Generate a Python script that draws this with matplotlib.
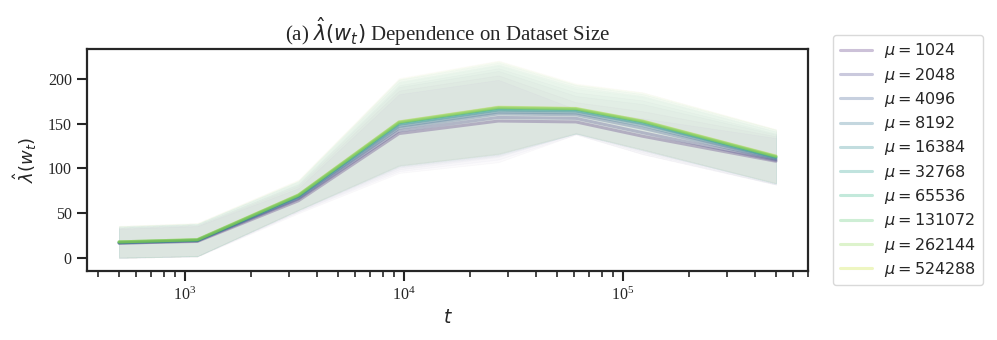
import numpy as np
import matplotlib
matplotlib.use("Agg")
import matplotlib.pyplot as plt
import matplotlib.ticker as mticker
import seaborn as sns

sns.set_theme(style="ticks")
plt.rcParams['font.family'] = ['Liberation Serif', 'DejaVu Sans']
plt.rcParams['mathtext.fontset'] = 'dejavusans'

# ---- data ----
t = [500, 1140, 3300, 9500, 27000, 61000, 123000, 500000]
mus = [1024, 2048, 4096, 8192, 16384, 32768, 65536, 131072, 262144, 524288]

m1024 = [16.5, 18.5, 64, 139, 153, 152, 136, 108]
m2048 = [16.5, 19, 66, 142, 157, 156, 140, 109]
m4096 = [17, 19.5, 67, 145, 161, 160, 145, 110]
m8192 = [17, 19.5, 68, 147, 163, 162, 148, 111]
m16384 = [17.5, 20, 69, 149, 165, 164, 150, 112]
m32768 = [17.5, 20, 69.5, 150, 166, 165, 151, 112.5]
m65536 = [18, 20, 70, 151, 167, 166, 152, 113]
m131072 = [18, 20.5, 70, 151.5, 168, 166.5, 152.5, 113.5]
m262144 = [18, 20.5, 70.5, 152, 168, 167, 153, 113.5]
m524288 = [18, 20.5, 70.5, 152, 168.5, 167, 153, 114]

s1024 = [16, 17, 14, 44, 46, 14, 20, 26]
s2048 = [16.5, 17, 14.5, 45, 47, 18, 24, 27]
s4096 = [17, 17.5, 15, 46, 48, 21, 27, 28]
s8192 = [17, 17.5, 15, 46, 49, 23, 28, 28]
s16384 = [17, 18, 15.5, 47, 50, 25, 30, 29]
s32768 = [17.5, 18, 16, 47, 50, 26, 30, 29]
s65536 = [17.5, 18, 16, 48, 51, 27, 31, 30]
s131072 = [17.5, 18, 16, 48, 51, 27, 31, 30]
s262144 = [17.5, 18.5, 16.5, 48, 52, 27, 32, 30]
s524288 = [18, 18.5, 17, 49, 52, 28, 32, 30]

means = [m1024, m2048, m4096, m8192, m16384, m32768, m65536, m131072, m262144, m524288]
stds = [s1024, s2048, s4096, s8192, s16384, s32768, s65536, s131072, s262144, s524288]

yticks = [0, 50, 100, 150, 200]

# ---- figure ----
fig = plt.figure(figsize=(9.97, 3.40), dpi=100)
ax = fig.add_axes([0.0873, 0.203, 0.7231, 0.653])

colors = sns.color_palette("viridis", len(mus))
tt = np.array(t, dtype=float)
for mu, m, s, c in zip(mus, means, stds, colors):
    m = np.array(m); s = np.array(s)
    ax.fill_between(tt, m - s, m + s, color=c, alpha=0.02, linewidth=0.6)
    ax.plot(tt, m, color=c, alpha=0.28, lw=2.2, label=r'$\mu = %d$' % mu)

ax.set_xscale('log')
ax.set_xlim(357, 700000)
ax.set_ylim(-14.5, 233.5)
ax.set_yticks(yticks)
ax.xaxis.set_major_locator(mticker.LogLocator(base=10))
ax.xaxis.set_major_formatter(mticker.FuncFormatter(
    lambda v, p: r'$\mathregular{10^{%d}}$' % int(round(np.log10(v)))))

for sp in ax.spines.values():
    sp.set_linewidth(1.6)
    sp.set_color('#262626')
ax.tick_params(which='major', length=7.5, width=1.5, labelsize=11.5, colors='#262626')
ax.tick_params(which='minor', length=4.5, width=1.2, colors='#262626')

ax.set_xlabel(r'$t$', fontsize=13.5, labelpad=4)
ax.set_ylabel(r'$\hat{\lambda}(w_t)$', fontsize=13, labelpad=6)
ax.set_title(r'(a) $\hat{\lambda}(w_t)$ Dependence on Dataset Size', fontsize=15, pad=6)

leg = ax.legend(loc='upper left', bbox_to_anchor=(1.035, 1.063), borderaxespad=0,
                fontsize=11.5, frameon=True, labelspacing=0.33, handlelength=2.0)
leg.get_frame().set_edgecolor('#d0d0d0')

fig.savefig('out.png', dpi=100)
